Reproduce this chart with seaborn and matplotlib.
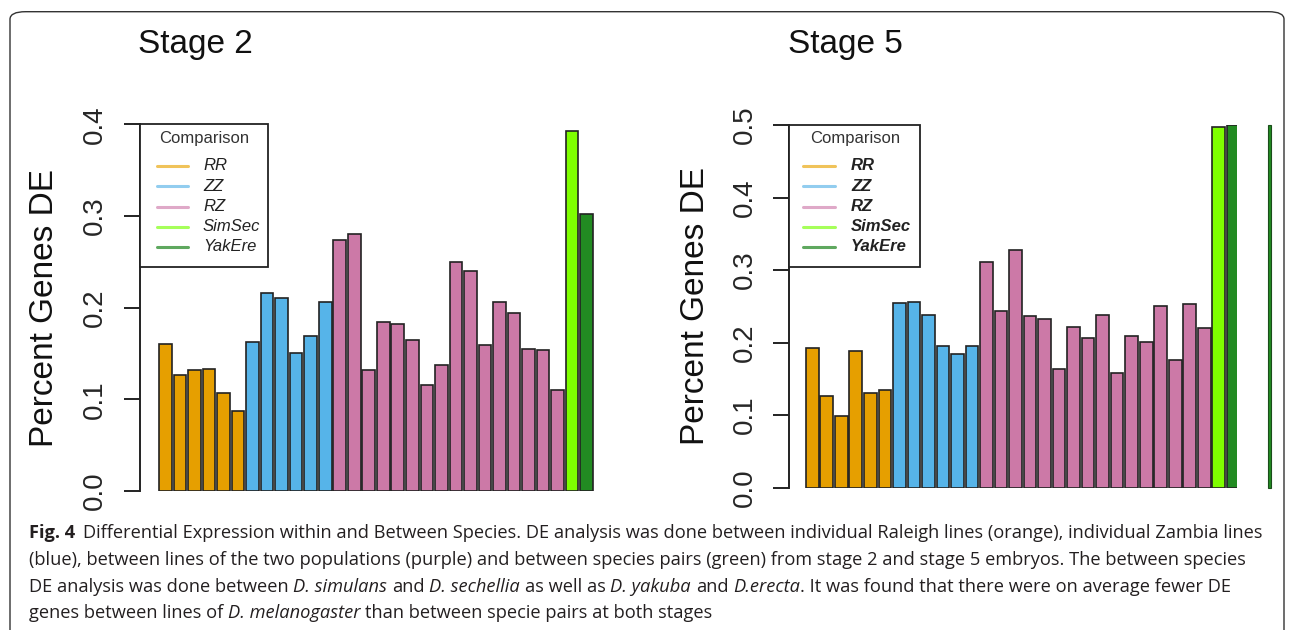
import numpy as np
import pandas as pd
import matplotlib
matplotlib.use("Agg")
import matplotlib.pyplot as plt
import seaborn as sns
from matplotlib.patches import Rectangle, FancyBboxPatch
from matplotlib.lines import Line2D

# ---------------- data ----------------
groups = ["RR", "ZZ", "RZ", "SimSec", "YakEre"]
bar_colors = ["#E69F00", "#56B4E9", "#CC79A7", "#7FFF00", "#228B22"]
legend_colors = ["#F0C35A", "#92CDEF", "#DFA9C8", "#A6FF5A", "#5FA85F"]

stage2_rr = [0.160, 0.127, 0.132, 0.133, 0.107, 0.087]
stage2_zz = [0.162, 0.216, 0.210, 0.151, 0.169, 0.206]
stage2_rz = [0.274, 0.280, 0.132, 0.184, 0.182, 0.165, 0.116, 0.137,
             0.250, 0.240, 0.159, 0.206, 0.194, 0.155, 0.154, 0.110]
stage2_species = [0.393, 0.302]

stage5_rr = [0.193, 0.126, 0.099, 0.188, 0.131, 0.135]
stage5_zz = [0.255, 0.256, 0.238, 0.195, 0.185, 0.196]
stage5_rz = [0.311, 0.244, 0.328, 0.237, 0.232, 0.163, 0.222, 0.207,
             0.238, 0.158, 0.209, 0.201, 0.251, 0.176, 0.253, 0.220]
stage5_species = [0.497, 0.500]

titles = ["Stage 2", "Stage 5"]
ylabel = "Percent Genes DE"
legend_title = "Comparison"
yticks_s2 = [0.0, 0.1, 0.2, 0.3, 0.4]
yticks_s5 = [0.0, 0.1, 0.2, 0.3, 0.4, 0.5]

caption_lines = [
    [("Fig. 4", "bold"), (" ", "normal"),
     ("Differential Expression within and Between Species. DE analysis was done between individual Raleigh lines (orange), individual Zambia lines", "normal")],
    [("(blue), between lines of the two populations (purple) and between species pairs (green) from stage 2 and stage 5 embryos. The between species", "normal")],
    [("DE analysis was done between", "normal"), (" ", "normal"), ("D. simulans", "italic"), (" ", "normal"),
     ("and", "normal"), (" ", "normal"), ("D. sechellia", "italic"), (" ", "normal"), ("as well as", "normal"),
     (" ", "normal"), ("D. yakuba", "italic"), (" ", "normal"), ("and", "normal"), (" ", "normal"),
     ("D.erecta", "italic"), (". It was found that there were on average fewer DE", "normal")],
    [("genes between lines of", "normal"), (" ", "normal"), ("D. melanogaster", "italic"), (" ", "normal"),
     ("than between specie pairs at both stages", "normal")],
]


def make_df(rr, zz, rz, sp):
    vals = rr + zz + rz + sp
    grp = ["RR"] * len(rr) + ["ZZ"] * len(zz) + ["RZ"] * len(rz) + ["SimSec", "YakEre"]
    return pd.DataFrame({"pair": [str(i) for i in range(len(vals))], "value": vals, "group": grp})


df2 = make_df(stage2_rr, stage2_zz, stage2_rz, stage2_species)
df5 = make_df(stage5_rr, stage5_zz, stage5_rz, stage5_species)

# ---------------- figure ----------------
sns.set_style("white")
plt.rcParams["font.family"] = ["Liberation Sans", "DejaVu Sans"]

W, H = 1293, 630
fig = plt.figure(figsize=(W / 100, H / 100), dpi=100)


def fx(px):
    return px / W


def fy(py):
    return 1 - py / H


SLOT = 14.52  # pixels per category


def make_axes(left_px, top_px, bottom_px, xlim):
    width_px = (xlim[1] - xlim[0]) * SLOT
    ax = fig.add_axes([fx(left_px), fy(bottom_px), width_px / W, (bottom_px - top_px) / H])
    return ax


panels = [
    dict(df=df2, ticks=yticks_s2, left=139.5, top=124.3, bottom=491.0, xlim=(-1.79, 29.6),
         title_x=195, ylabel_x=45, legend_box=(139.5, 124.3, 268, 267), leg_line=(157, 188), leg_text=203,
         leg_title_x=204.5, weight="normal"),
    dict(df=df5, ticks=yticks_s5, left=789.0, top=125.0, bottom=487.7, xlim=(-1.6, 29.25),
         title_x=845, ylabel_x=695, legend_box=(789, 125, 920, 267), leg_line=(803, 835), leg_text=851,
         leg_title_x=855, weight="bold"),
]

palette = dict(zip(groups, bar_colors))

for p, title in zip(panels, titles):
    ax = make_axes(p["left"], p["top"], p["bottom"], p["xlim"])
    sns.barplot(data=p["df"], x="pair", y="value", hue="group", hue_order=groups,
                order=list(p["df"]["pair"]), palette=palette, dodge=False, width=0.87,
                saturation=1, edgecolor="#222222", linewidth=1.2, errorbar=None, legend=False, ax=ax)
    ax.set_xlim(*p["xlim"])
    ax.set_ylim(p["ticks"][0], p["ticks"][-1])
    ax.set_xticks([])
    ax.set_xlabel("")
    ax.set_ylabel("")
    for s in ["top", "right", "bottom"]:
        ax.spines[s].set_visible(False)
    ax.spines["left"].set_bounds(p["ticks"][0], p["ticks"][-1])
    ax.spines["left"].set_linewidth(1.4)
    ax.spines["left"].set_color("#222222")
    ax.set_yticks(p["ticks"])
    ax.set_yticklabels([f"{t:.1f}" for t in p["ticks"]])
    ax.tick_params(axis="y", length=11.5, width=1.4, color="#222222", labelsize=20, pad=11,
                   labelrotation=90, left=True)
    for lab in ax.get_yticklabels():
        lab.set_va("center")
    ax.patch.set_alpha(0)

    # title and y label
    fig.text(fx(p["title_x"]), fy(53), title, fontsize=24, ha="center", va="baseline", color="#111111")
    fig.text(fx(p["ylabel_x"]), fy((p["top"] + p["bottom"]) / 2), ylabel, fontsize=24, rotation=90,
             ha="center", va="center", color="#111111")

    # legend box (R style)
    x0, y0, x1, y1 = p["legend_box"]
    fig.add_artist(Rectangle((fx(x0), fy(y1)), (x1 - x0) / W, (y1 - y0) / H, transform=fig.transFigure,
                             facecolor="white", edgecolor="#222222", linewidth=1.3, zorder=5))
    fig.text(fx(p["leg_title_x"]), fy(139), legend_title, fontsize=12, ha="center", va="center",
             color="#333333", zorder=6)
    row_y = [165.7, 186.2, 206.7, 226.7, 246.7]
    for g, c, ry in zip(groups, legend_colors, row_y):
        fig.add_artist(Line2D([fx(p["leg_line"][0]), fx(p["leg_line"][1])], [fy(ry), fy(ry)],
                              transform=fig.transFigure, color=c, linewidth=2.2, zorder=6))
        fig.text(fx(p["leg_text"]), fy(ry), g, fontsize=12, style="italic", weight=p["weight"],
                 ha="left", va="center", color="#222222", zorder=6)

# stray bar edge at the right of the Stage 5 panel
fig.add_artist(Rectangle((fx(1267.5), fy(487.7)), 3.5 / W, (487.7 - 125) / H, transform=fig.transFigure,
                         facecolor="#228B22", edgecolor="#1b4d1b", linewidth=0.8))

# figure frame (rounded)
fig.add_artist(FancyBboxPatch((fx(10), fy(660)), (1284 - 10) / W, (660 - 11.7) / H,
                              boxstyle="round,pad=0,rounding_size=0.012", transform=fig.transFigure,
                              facecolor="none", edgecolor="#333333", linewidth=1.0, clip_on=False))

# ---------------- caption ----------------
cap_family = ["Open Sans", "DejaVu Sans"]
baselines = [538, 565, 592, 618]
x_start = 29
target_w = 1238

renderer = fig.canvas.get_renderer()


def layout(size, draw=True):
    created = []
    widths = []
    for line, by in zip(caption_lines, baselines):
        x = x_start
        for txt, sty in line:
            kw = dict(fontsize=size, family=cap_family, color="#231f20", ha="left", va="baseline")
            if sty == "bold":
                kw["weight"] = "bold"
            if sty == "italic":
                kw["style"] = "italic"
            if txt == " ":
                probe1 = fig.text(0, 0, "x x", **kw)
                probe2 = fig.text(0, 0, "xx", **kw)
                w = probe1.get_window_extent(renderer).width - probe2.get_window_extent(renderer).width
                probe1.remove(); probe2.remove()
                x += w * (1.6 if line[0][0] == "Fig. 4" and x < 100 else 1.0)
                continue
            t = fig.text(fx(x), fy(by), txt, **kw)
            x = t.get_window_extent(renderer).x1
            created.append(t)
        widths.append(x - x_start)
    if not draw:
        for t in created:
            t.remove()
    return widths


w0 = layout(11, draw=False)
size = 11 * target_w / w0[0]
layout(size, draw=True)

fig.savefig("out.png", dpi=100)
